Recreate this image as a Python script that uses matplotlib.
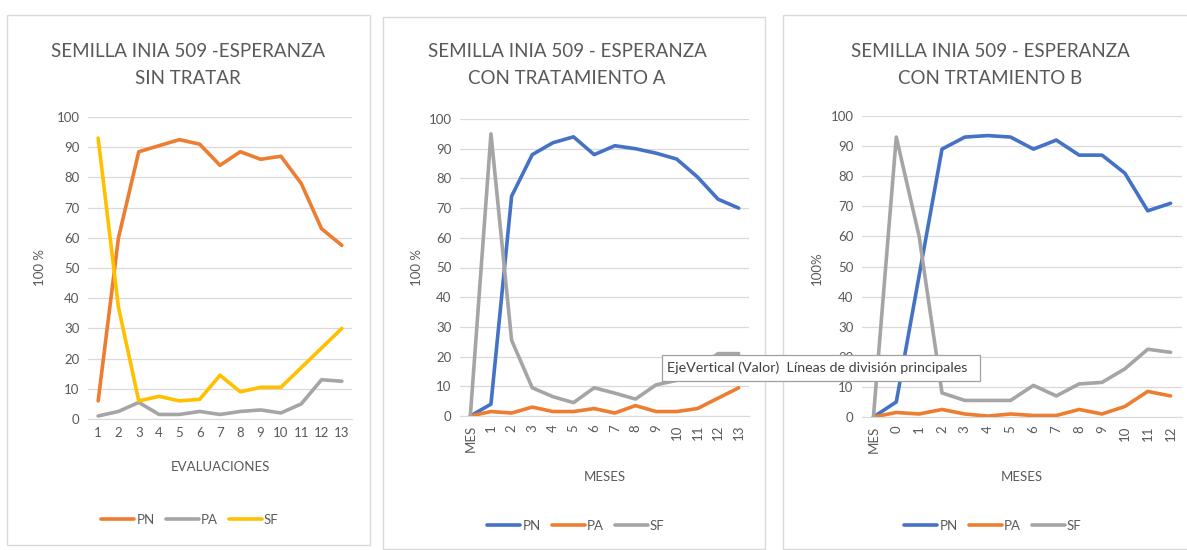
"""
Recreate the three INIA 509 seed panels (PN / PA / SF over time).
"""
import matplotlib
matplotlib.use("Agg")
import matplotlib.pyplot as plt
from matplotlib.patches import Rectangle

W, H = 1187, 550

plt.rcParams['font.family'] = ['Lato', 'DejaVu Sans']

# ---- data ----
eval_labels = [str(i) for i in range(1, 14)]
sin_pn = [6, 60, 88.5, 90.5, 92.5, 91, 84, 88.5, 86, 87, 78, 63, 57.5]
sin_pa = [1, 2.5, 5.5, 1.5, 1.5, 2.5, 1.5, 2.5, 3, 2, 5, 13, 12.5]
sin_sf = [93, 37, 6, 7.5, 6, 6.5, 14.5, 9, 10.5, 10.5, 17, 23.5, 30]

mes_a_labels = ["MES"] + [str(i) for i in range(1, 14)]
a_pn = [0, 4, 74, 88, 92, 94, 88, 91, 90, 88.5, 86.5, 80.5, 73, 70]
a_pa = [0, 1.5, 1, 3, 1.5, 1.5, 2.5, 1, 3.5, 1.5, 1.5, 2.5, 6, 9.5]
a_sf = [0, 95, 25.5, 9.5, 6.5, 4.5, 9.5, 7.7, 5.7, 10.5, 12, 16, 21, 21]

mes_b_labels = ["MES"] + [str(i) for i in range(0, 13)]
b_pn = [0, 5, 47, 89, 93, 93.5, 93, 89, 92, 87, 87, 81, 68.5, 71]
b_pa = [0, 1.5, 1, 2.5, 1, 0.3, 1, 0.5, 0.5, 2.5, 1, 3.5, 8.5, 7]
b_sf = [0, 93, 60, 8, 5.5, 5.5, 5.5, 10.5, 7, 11, 11.5, 16, 22.5, 21.5]

ORANGE = '#ED7D31'
GRAY = '#A5A5A5'
YELLOW = '#FFC000'
BLUE = '#4472C4'
TXT = '#595959'

fig = plt.figure(figsize=(W / 100, H / 100), dpi=100)


def fx(px):
    return px / W


def fy(py):
    return 1 - py / H


def add_ax(x0, x1, ytop, ybot):
    return fig.add_axes([fx(x0), fy(ybot), fx(x1) - fx(x0), fy(ytop) - fy(ybot)])


def panel_box(x0, y0, x1, y1):
    fig.patches.append(Rectangle((fx(x0), fy(y1)), fx(x1) - fx(x0), fy(y0) - fy(y1),
                                 transform=fig.transFigure, fill=False,
                                 edgecolor='#D9D9D9', linewidth=1.0, zorder=0))


def draw_panel(ax, labels, series, title, ylabel, xlabel, rotate, title_x,
               ylab_x, xlab_y, leg_x, leg_y):
    x = list(range(len(labels)))
    lines = []
    for name, vals, col in series:
        ln, = ax.plot(x, vals, color=col, linewidth=2.6, label=name,
                      solid_joinstyle='round', solid_capstyle='round', zorder=3)
        lines.append(ln)
    ax.set_xlim(-0.5, len(labels) - 0.5)
    ax.set_ylim(0, 100)
    ax.set_yticks(range(0, 101, 10))
    ax.set_xticks(x)
    ax.set_xticklabels(labels, rotation=90 if rotate else 0)
    ax.grid(axis='y', color='#D9D9D9', linewidth=0.9, zorder=0)
    for s in ['top', 'right', 'left']:
        ax.spines[s].set_visible(False)
    ax.spines['bottom'].set_color('#D9D9D9')
    ax.tick_params(axis='both', length=0, labelsize=9.5, labelcolor=TXT, pad=6)
    ax.set_facecolor('none')

    # x label sits at the centre of the plot area
    pos = ax.get_position()
    xc = (pos.x0 + pos.x1) / 2

    fig.text(fx(title_x), fy(65), title, ha='center', va='center',
             fontsize=13.5, color=TXT, linespacing=1.75)
    fig.text(fx(ylab_x), fy(268), ylabel, rotation=90, ha='center', va='center',
             fontsize=9.5, color=TXT)
    fig.text(xc, fy(xlab_y), xlabel, ha='center', va='center',
             fontsize=9.5, color=TXT)
    fig.legend(handles=lines, loc='center', bbox_to_anchor=(fx(leg_x), fy(leg_y)),
               ncol=3, frameon=False, fontsize=9.5, handlelength=2.5,
               handletextpad=0.15, columnspacing=0.85, labelcolor=TXT)


panel_box(7, 15, 370, 545)
panel_box(383, 17, 765, 549)
panel_box(783, 15, 1200, 549)

ax1 = add_ax(88, 352, 117, 419)
draw_panel(ax1, eval_labels,
           [('PN', sin_pn, ORANGE), ('PA', sin_pa, GRAY), ('SF', sin_sf, YELLOW)],
           "SEMILLA INIA 509 -ESPERANZA\nSIN TRATAR", "100 %", "EVALUACIONES",
           False, 188, 40, 467, 190, 520)

ax2 = add_ax(460, 749, 119, 416)
draw_panel(ax2, mes_a_labels,
           [('PN', a_pn, BLUE), ('PA', a_pa, ORANGE), ('SF', a_sf, GRAY)],
           "SEMILLA INIA 509 - ESPERANZA\nCON TRATAMIENTO A", "100 %", "MESES",
           True, 567, 417, 477, 576, 526)

ax3 = add_ax(862, 1182, 116, 417)
draw_panel(ax3, mes_b_labels,
           [('PN', b_pn, BLUE), ('PA', b_pa, ORANGE), ('SF', b_sf, GRAY)],
           "SEMILLA INIA 509 - ESPERANZA\nCON TRTAMIENTO B", "100%", "MESES",
           True, 990, 817, 477, 993, 526)

# tooltip left over from the screenshot
fig.patches.append(Rectangle((fx(662), fy(381)), fx(980) - fx(662), fy(355) - fy(381),
                             transform=fig.transFigure, facecolor='white',
                             edgecolor='#A0A0A0', linewidth=0.9, zorder=10))
fig.text(fx(667), fy(368), "EjeVertical (Valor)  Líneas de división principales",
         ha='left', va='center', fontsize=10.3, color='#404040', zorder=11)

fig.savefig("out.png", dpi=100, facecolor='white')
